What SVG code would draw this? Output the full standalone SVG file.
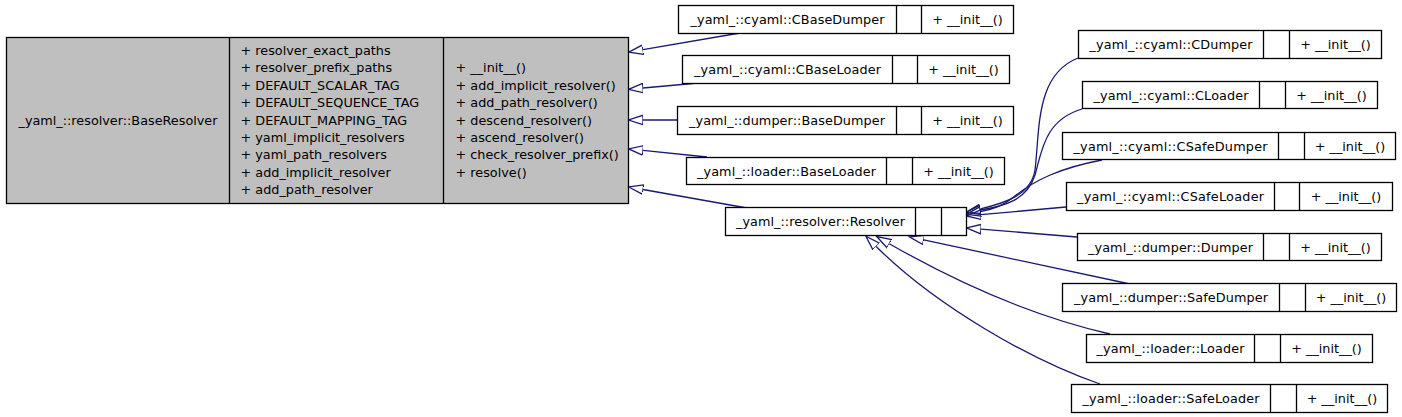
<svg xmlns="http://www.w3.org/2000/svg" width="1402" height="417" viewBox="0 0 1402 417">
<style>
.box{fill:#ffffff;stroke:#000000;stroke-width:1.3}
.gray{fill:#bfbfbf}
.div{stroke:#000000;stroke-width:1.3}
text{font-family:"DejaVu Sans","Liberation Sans",sans-serif;font-size:12.8px;fill:#000000}
.c{text-anchor:middle}
.edge{fill:none;stroke:#191970;stroke-width:1.3;marker-end:url(#inh)}
</style>
<defs>
<marker id="inh" markerUnits="userSpaceOnUse" markerWidth="18" markerHeight="12" refX="0" refY="6" viewBox="0 0 18 12" orient="auto">
<path d="M0,1.3 L14.5,6 L0,10.7 Z" fill="none" stroke="#191970" stroke-width="1.3"/>
</marker>
</defs>
<rect width="1402" height="417" fill="#ffffff"/>
<g id="connectors">
<path class="edge" d="M740,33 L643,49.7"/>
<path class="edge" d="M693,83.5 L643,88"/>
<path class="edge" d="M677,120 L643,120"/>
<path class="edge" d="M707,157 L643,150.4"/>
<path class="edge" d="M747,208 L643,189.5"/>
<path class="edge" d="M1078,58 C1035,75 1040,130 1035,170 C1031,195 1005,203 980.4,208.9"/>
<path class="edge" d="M1082,109 C1045,120 1042,150 1035,175 C1027,200 1005,206 980.5,210"/>
<path class="edge" d="M1102,160 C1060,168 1035,180 1015,196 C1003,206 993,209 980.6,211.5"/>
<path class="edge" d="M1066,207 L980.9,214.7"/>
<path class="edge" d="M1077,237 L981,229.1"/>
<path class="edge" d="M1130,284 L923.7,239.9"/>
<path class="edge" d="M1110,334 C1040,318 965,287 889.3,243.7"/>
<path class="edge" d="M1100,384 C1030,360 935,305 876.2,246.5"/>
</g>
<g id="BaseResolver">
<rect class="box gray" x="6.5" y="37.5" width="622" height="166"/>
<line class="div" x1="229.5" y1="37.5" x2="229.5" y2="203.5"/>
<line class="div" x1="443.5" y1="37.5" x2="443.5" y2="203.5"/>
<text class="c" x="118" y="124.5">_yaml_::resolver::BaseResolver</text>
<text x="240.5" y="54.9">+ resolver_exact_paths</text>
<text x="240.5" y="72.3">+ resolver_prefix_paths</text>
<text x="240.5" y="89.7">+ DEFAULT_SCALAR_TAG</text>
<text x="240.5" y="107.1">+ DEFAULT_SEQUENCE_TAG</text>
<text x="240.5" y="124.5">+ DEFAULT_MAPPING_TAG</text>
<text x="240.5" y="141.9">+ yaml_implicit_resolvers</text>
<text x="240.5" y="159.3">+ yaml_path_resolvers</text>
<text x="240.5" y="176.7">+ add_implicit_resolver</text>
<text x="240.5" y="194.1">+ add_path_resolver</text>
<text x="455.5" y="72.3">+ __init__()</text>
<text x="455.5" y="89.7">+ add_implicit_resolver()</text>
<text x="455.5" y="107.1">+ add_path_resolver()</text>
<text x="455.5" y="124.5">+ descend_resolver()</text>
<text x="455.5" y="141.9">+ ascend_resolver()</text>
<text x="455.5" y="159.3">+ check_resolver_prefix()</text>
<text x="455.5" y="176.7">+ resolve()</text>
</g>
<g id="CBaseDumper">
<rect class="box" x="678.5" y="5.5" width="335" height="28"/>
<line class="div" x1="896.5" y1="5.5" x2="896.5" y2="33.5"/>
<line class="div" x1="921.5" y1="5.5" x2="921.5" y2="33.5"/>
<text class="c" x="787.5" y="24" textLength="194">_yaml_::cyaml::CBaseDumper</text>
<text class="c" x="967.5" y="24">+ __init__()</text>
</g>
<g id="CBaseLoader">
<rect class="box" x="682.5" y="55.5" width="327" height="28"/>
<line class="div" x1="892.5" y1="55.5" x2="892.5" y2="83.5"/>
<line class="div" x1="917.5" y1="55.5" x2="917.5" y2="83.5"/>
<text class="c" x="787.5" y="74" textLength="187">_yaml_::cyaml::CBaseLoader</text>
<text class="c" x="963.5" y="74">+ __init__()</text>
</g>
<g id="BaseDumper">
<rect class="box" x="677.5" y="106.5" width="336" height="28"/>
<line class="div" x1="896.5" y1="106.5" x2="896.5" y2="134.5"/>
<line class="div" x1="921.5" y1="106.5" x2="921.5" y2="134.5"/>
<text class="c" x="787" y="125" textLength="196">_yaml_::dumper::BaseDumper</text>
<text class="c" x="967.5" y="125">+ __init__()</text>
</g>
<g id="BaseLoader">
<rect class="box" x="686.5" y="157.5" width="318" height="27"/>
<line class="div" x1="886.5" y1="157.5" x2="886.5" y2="184.5"/>
<line class="div" x1="912.5" y1="157.5" x2="912.5" y2="184.5"/>
<text class="c" x="786.5" y="175.5" textLength="179">_yaml_::loader::BaseLoader</text>
<text class="c" x="958.5" y="175.5">+ __init__()</text>
</g>
<g id="Resolver">
<rect class="box" x="725.5" y="207.5" width="241" height="28"/>
<line class="div" x1="915.5" y1="207.5" x2="915.5" y2="235.5"/>
<line class="div" x1="941.5" y1="207.5" x2="941.5" y2="235.5"/>
<text class="c" x="820.5" y="226" textLength="169">_yaml_::resolver::Resolver</text>
</g>
<g id="CDumper">
<rect class="box" x="1078.5" y="30.5" width="303" height="28"/>
<line class="div" x1="1263.5" y1="30.5" x2="1263.5" y2="58.5"/>
<line class="div" x1="1289.5" y1="30.5" x2="1289.5" y2="58.5"/>
<text class="c" x="1171" y="49" textLength="163">_yaml_::cyaml::CDumper</text>
<text class="c" x="1335.5" y="49">+ __init__()</text>
</g>
<g id="CLoader">
<rect class="box" x="1082.5" y="81.5" width="295" height="27"/>
<line class="div" x1="1259.5" y1="81.5" x2="1259.5" y2="108.5"/>
<line class="div" x1="1285.5" y1="81.5" x2="1285.5" y2="108.5"/>
<text class="c" x="1171" y="99.5" textLength="155">_yaml_::cyaml::CLoader</text>
<text class="c" x="1331.5" y="99.5">+ __init__()</text>
</g>
<g id="CSafeDumper">
<rect class="box" x="1062.5" y="132.5" width="333" height="27"/>
<line class="div" x1="1278.5" y1="132.5" x2="1278.5" y2="159.5"/>
<line class="div" x1="1304.5" y1="132.5" x2="1304.5" y2="159.5"/>
<text class="c" x="1170.5" y="150.5" textLength="194">_yaml_::cyaml::CSafeDumper</text>
<text class="c" x="1350" y="150.5">+ __init__()</text>
</g>
<g id="CSafeLoader">
<rect class="box" x="1066.5" y="182.5" width="326" height="28"/>
<line class="div" x1="1274.5" y1="182.5" x2="1274.5" y2="210.5"/>
<line class="div" x1="1299.5" y1="182.5" x2="1299.5" y2="210.5"/>
<text class="c" x="1170.5" y="201" textLength="187">_yaml_::cyaml::CSafeLoader</text>
<text class="c" x="1346" y="201">+ __init__()</text>
</g>
<g id="Dumper">
<rect class="box" x="1077.5" y="233.5" width="304" height="27"/>
<line class="div" x1="1263.5" y1="233.5" x2="1263.5" y2="260.5"/>
<line class="div" x1="1289.5" y1="233.5" x2="1289.5" y2="260.5"/>
<text class="c" x="1170.5" y="251.5" textLength="165">_yaml_::dumper::Dumper</text>
<text class="c" x="1335.5" y="251.5">+ __init__()</text>
</g>
<g id="SafeDumper">
<rect class="box" x="1062.5" y="283.5" width="334" height="28"/>
<line class="div" x1="1279.5" y1="283.5" x2="1279.5" y2="311.5"/>
<line class="div" x1="1305.5" y1="283.5" x2="1305.5" y2="311.5"/>
<text class="c" x="1171" y="302" textLength="194">_yaml_::dumper::SafeDumper</text>
<text class="c" x="1351" y="302">+ __init__()</text>
</g>
<g id="Loader">
<rect class="box" x="1086.5" y="334.5" width="286" height="28"/>
<line class="div" x1="1254.5" y1="334.5" x2="1254.5" y2="362.5"/>
<line class="div" x1="1280.5" y1="334.5" x2="1280.5" y2="362.5"/>
<text class="c" x="1170.5" y="353" textLength="148">_yaml_::loader::Loader</text>
<text class="c" x="1326.5" y="353">+ __init__()</text>
</g>
<g id="SafeLoader">
<rect class="box" x="1071.5" y="384.5" width="316" height="28"/>
<line class="div" x1="1270.5" y1="384.5" x2="1270.5" y2="412.5"/>
<line class="div" x1="1296.5" y1="384.5" x2="1296.5" y2="412.5"/>
<text class="c" x="1171" y="403" textLength="177">_yaml_::loader::SafeLoader</text>
<text class="c" x="1342" y="403">+ __init__()</text>
</g>
</svg>
